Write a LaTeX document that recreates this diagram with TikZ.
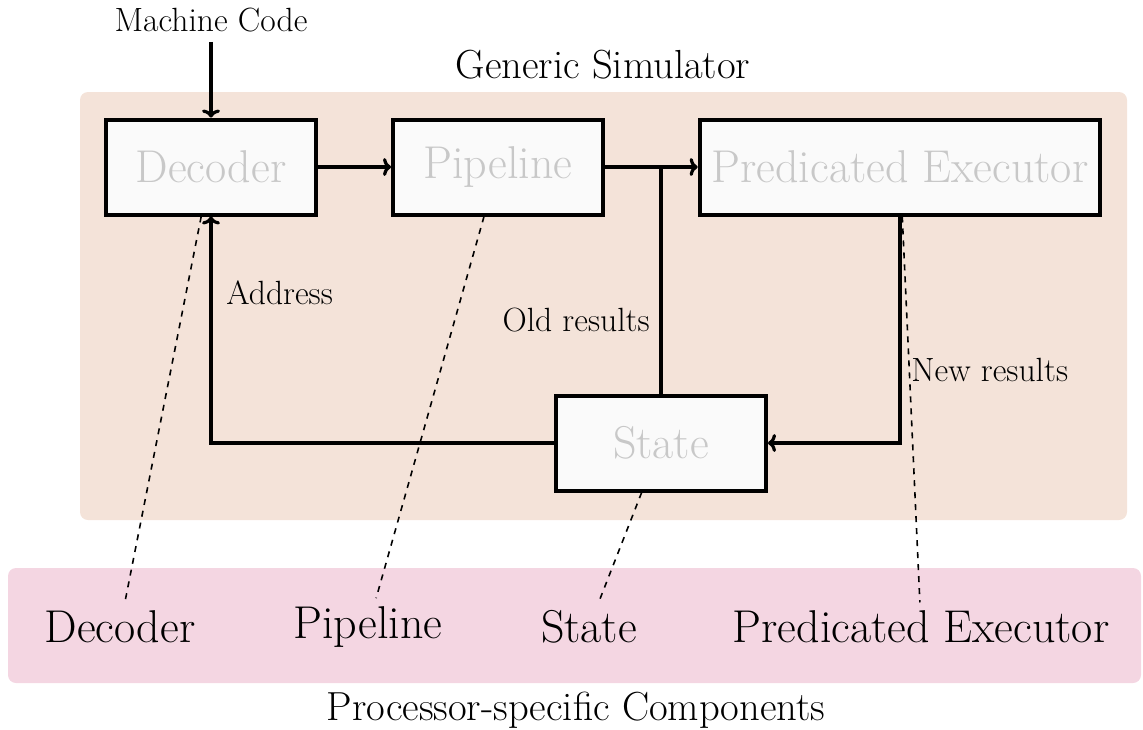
\documentclass[tikz,border=0pt]{standalone}
\usetikzlibrary{arrows.meta}
\definecolor{simbg}{HTML}{F4E3D9}
\definecolor{procbg}{HTML}{F4D6E2}
\definecolor{boxfill}{HTML}{FAFAFA}
\definecolor{boxtext}{HTML}{C8C8C8}
\newcommand{\compfont}{\fontsize{23}{28}\selectfont}
\newcommand{\lblfont}{\fontsize{16.8}{20}\selectfont}
\newcommand{\titlefont}{\fontsize{20.3}{24}\selectfont}
\tikzset{
  unit/.style={draw=black, line width=2pt, fill=boxfill, text=boxtext,
    font=\compfont, minimum height=47.5pt, inner sep=6pt},
  wire/.style={line width=1.6pt},
  flow/.style={wire, -{To[length=4pt,width=9pt,line width=1.6pt]}},
  link/.style={dashed, line width=0.8pt},
  lbl/.style={font=\lblfont, inner sep=0pt},
  comp/.style={font=\compfont, inner sep=4pt},
  title/.style={font=\titlefont, inner sep=0pt},
  panel/.style={rounded corners=4pt, draw=none}
}
\begin{document}
\begin{tikzpicture}[x=0.5pt,y=-0.5pt]
\useasboundingbox (0,0) rectangle (1143,729);

% background panels
\fill[simbg, panel] (80,92) rectangle (1127,520);
\fill[procbg, panel] (8,568) rectangle (1141,683);

% panel captions
\node[title, anchor=base] (simtitle) at (603,78) {Generic Simulator};
\node[title, anchor=base] (proctitle) at (576,720) {Processor-specific Components};

% simulator units
\node[unit, minimum width=105pt] (dec) at (211,167) {Decoder};
\node[unit, minimum width=105pt] (pipe) at (498,167) {Pipeline};
\node[unit, minimum width=200pt] (pe) at (900,167) {Predicated Executor};
\node[unit, minimum width=105pt] (state) at (661,443) {State};

% processor-specific components
\node[comp] (cdec) at (120,627) {Decoder};
\node[comp] (cpipe) at (368,627) {Pipeline};
\node[comp] (cstate) at (589,627) {State};
\node[comp] (cpe) at (921,627) {Predicated Executor};

% correspondence links
\draw[link] (dec) -- (cdec);
\draw[link] (pipe) -- (cpipe);
\draw[link] (state) -- (cstate);
\draw[link] (pe) -- (cpe);

% input
\node[lbl, anchor=base] (mc) at (211,31) {Machine Code};
\draw[flow] (mc.south) ++(0,10) -- (dec.north);

% data flow
\draw[flow] (dec.east) -- (pipe.west);
\draw[flow] (pipe.east) -- (pe.west);
\coordinate (join) at (state.north |- pipe.east);
\draw[wire] (state.north) -- (join);
\draw[flow] (state.west) -| (dec.south);
\draw[flow] (pe.south) |- (state.east);

% flow labels
\node[lbl, anchor=base west] (addr) at (226,304) {Address};
\node[lbl, anchor=base east] (oldr) at (650,331) {Old results};
\node[lbl, anchor=base west] (newr) at (911,381) {New results};
\end{tikzpicture}
\end{document}
